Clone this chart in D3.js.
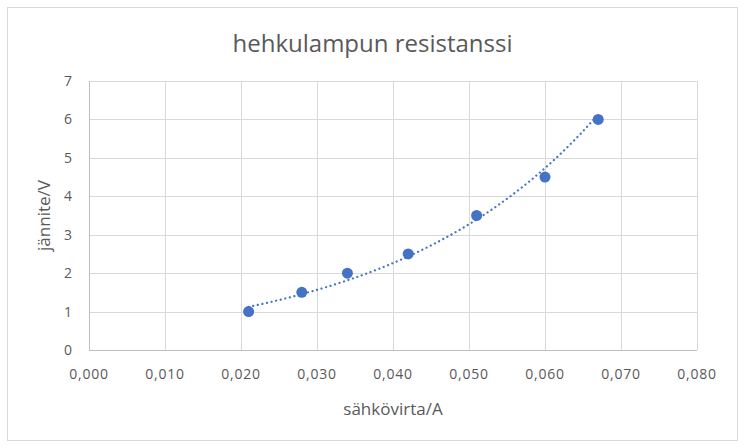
<!DOCTYPE html>
<html lang="fi">
<head>
    <meta charset="UTF-8">
    <title>hehkulampun resistanssi</title>
    <script src="https://cdn.jsdelivr.net/npm/d3@7"></script>
    <style>
        body { margin: 0; background: #fff; }
        svg text { font-family: "Open Sans", "Noto Sans", sans-serif; fill: #595959; }
    </style>
</head>
<body>
<script>
    // measured values
    let current = [0.021, 0.028, 0.034, 0.042, 0.051, 0.060, 0.067];
    let voltage = [1, 1.5, 2, 2.5, 3.5, 4.5, 6];
    let xTicks = [0, 0.01, 0.02, 0.03, 0.04, 0.05, 0.06, 0.07, 0.08];
    let yTicks = [0, 1, 2, 3, 4, 5, 6, 7];

    let width = 745, height = 448;
    let margin = { left: 89, right: 48, top: 81, bottom: 98 };
    let blue = "#4472c4";

    let svg = d3.select("body").append("svg")
        .attr("width", width)
        .attr("height", height);

    // chart border
    svg.append("rect")
        .attr("x", 7.5).attr("y", 7.5)
        .attr("width", 730).attr("height", 433)
        .attr("fill", "#fff")
        .attr("stroke", "#d9d9d9");

    let x = d3.scaleLinear().domain([0, 0.08]).range([margin.left, width - margin.right]);
    let y = d3.scaleLinear().domain([0, 7]).range([height - margin.bottom, margin.top]);

    // gridlines
    svg.append("g").selectAll("line")
        .data(xTicks.slice(1))
        .enter().append("line")
        .attr("x1", d => Math.round(x(d)) + 0.5).attr("x2", d => Math.round(x(d)) + 0.5)
        .attr("y1", y(0)).attr("y2", y(7))
        .attr("stroke", "#d9d9d9");
    svg.append("g").selectAll("line")
        .data(yTicks.slice(1))
        .enter().append("line")
        .attr("x1", x(0)).attr("x2", x(0.08))
        .attr("y1", d => Math.round(y(d)) + 0.5).attr("y2", d => Math.round(y(d)) + 0.5)
        .attr("stroke", "#d9d9d9");

    // axis lines
    svg.append("line")
        .attr("x1", Math.round(x(0)) + 0.5).attr("x2", Math.round(x(0)) + 0.5)
        .attr("y1", y(0)).attr("y2", y(7))
        .attr("stroke", "#bfbfbf");
    svg.append("line")
        .attr("x1", x(0)).attr("x2", x(0.08))
        .attr("y1", Math.round(y(0)) + 0.5).attr("y2", Math.round(y(0)) + 0.5)
        .attr("stroke", "#bfbfbf");

    // tick labels
    let fmtX = d => d3.format(".3f")(d).replace(".", ",");
    svg.append("g").selectAll("text")
        .data(xTicks)
        .enter().append("text")
        .attr("x", d => x(d))
        .attr("y", y(0) + 29)
        .attr("text-anchor", "middle")
        .attr("font-size", 14)
        .attr("letter-spacing", 0.8)
        .text(fmtX);
    svg.append("g").selectAll("text")
        .data(yTicks)
        .enter().append("text")
        .attr("x", x(0) - 17)
        .attr("y", d => y(d) + 5)
        .attr("text-anchor", "end")
        .attr("font-size", 14)
        .text(d => d);

    // titles
    svg.append("text")
        .attr("x", width / 2).attr("y", 52)
        .attr("text-anchor", "middle")
        .attr("font-size", 24)
        .text("hehkulampun resistanssi");
    svg.append("text")
        .attr("x", (x(0) + x(0.08)) / 2).attr("y", 415)
        .attr("text-anchor", "middle")
        .attr("font-size", 17)
        .text("sähkövirta/A");
    svg.append("text")
        .attr("transform", "translate(50," + (y(0) + y(7)) / 2 + ") rotate(-90)")
        .attr("text-anchor", "middle")
        .attr("font-size", 17)
        .text("jännite/V");

    // exponential trendline fitted to the data (least squares on ln y)
    let lnV = voltage.map(Math.log);
    let mx = d3.mean(current), my = d3.mean(lnV);
    let b = d3.sum(current, (c, i) => (c - mx) * (lnV[i] - my)) / d3.sum(current, c => (c - mx) * (c - mx));
    let a = Math.exp(my - b * mx);
    let xs = d3.extent(current);
    let trend = d3.range(0, 61).map(i => xs[0] + (xs[1] - xs[0]) * i / 60);
    svg.append("path")
        .datum(trend)
        .attr("fill", "none")
        .attr("stroke", blue)
        .attr("stroke-width", 2.2)
        .attr("stroke-linecap", "round")
        .attr("stroke-dasharray", "0.1,4.6")
        .attr("d", d3.line().x(d => x(d)).y(d => y(a * Math.exp(b * d))));

    // data points
    svg.append("g").selectAll("circle")
        .data(current)
        .enter().append("circle")
        .attr("cx", d => x(d))
        .attr("cy", (d, i) => y(voltage[i]))
        .attr("r", 5.5)
        .attr("fill", blue);
</script>
</body>
</html>
